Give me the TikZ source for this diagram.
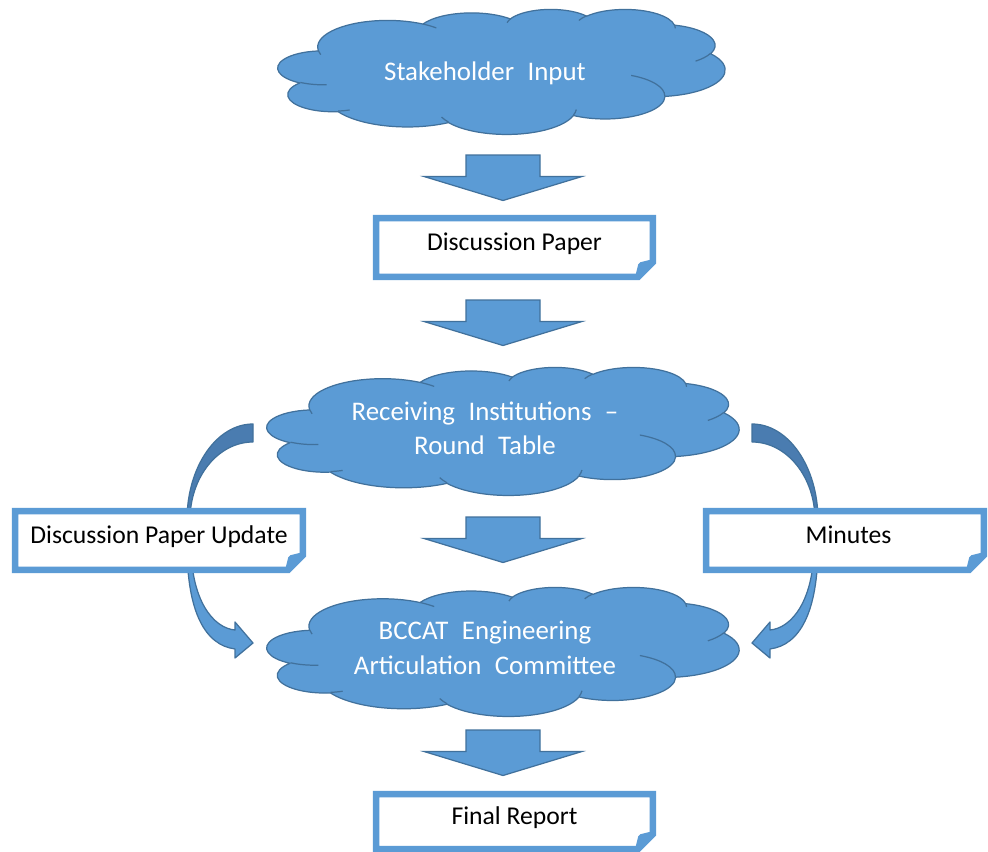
\documentclass[tikz,border=0pt]{standalone}
\usepackage{fontspec}
\setmainfont{Carlito}
\usetikzlibrary{calc}
\definecolor{cfill}{HTML}{5B9BD5}
\definecolor{cline}{HTML}{41719C}
\definecolor{cdark}{HTML}{4A7CB0}
\definecolor{cflap}{HTML}{CDCDCD}

% Office-style elliptical arc: visual start angle / sweep -> TikZ parametric arc
\newcommand\ooprep[5]{%
  \pgfmathsetmacro\ooTa{atan2((#2)*sin(#4),(#3)*cos(#4))}%
  \pgfmathsetmacro\ooTb{atan2((#2)*sin((#4)+(#5)),(#3)*cos((#4)+(#5)))}%
  \pgfmathsetmacro\ooTd{mod((\ooTb)-(\ooTa)+720,360)}%
  \expandafter\xdef\csname oo#1\endcsname{arc[x radius=#2, y radius=#3, start angle=\ooTa, delta angle=\ooTd]}%
}
\ooprep{A}{6.753}{9.19}{-190.4875}{123.7805}
\ooprep{B}{5.333}{7.267}{-144.1024}{89.9452}
\ooprep{C}{4.365}{5.945}{-145.8079}{99.7230}
\ooprep{D}{4.857}{6.595}{-130.9861}{117.2417}
\ooprep{E}{5.333}{7.273}{-78.7089}{109.0269}
\ooprep{F}{6.775}{9.22}{-46.2673}{130.2690}
\ooprep{G}{5.785}{7.867}{0.6250}{114.0333}
\ooprep{H}{6.752}{9.215}{22.4516}{115.1726}
\ooprep{I}{7.72}{10.543}{66.2426}{75.7110}
\ooprep{J}{4.36}{5.918}{-274.9421}{146.7356}
\ooprep{K}{4.345}{5.945}{-246.8285}{152.5189}
\ooprep{La}{4.345}{5.945}{86.742}{26.4295}
\ooprep{Lb}{4.36}{5.918}{73.6105}{11.4475}
\ooprep{Lc}{6.752}{9.215}{137.6242}{14.0811}
\ooprep{Ld}{6.752}{9.215}{6.4533}{15.9984}
\ooprep{Le}{5.785}{7.867}{-70.2924}{70.9174}
\ooprep{Lf}{5.333}{7.273}{30.3180}{27.7515}
\ooprep{Lg}{4.857}{6.595}{-13.7443}{14.8596}
\ooprep{Lh}{4.857}{6.595}{-149.1815}{18.1959}
\ooprep{Li}{4.365}{5.945}{-163.4943}{17.6980}
\ooprep{Lj}{6.753}{9.19}{-66.7070}{12.3194}
\ooprep{Lk}{6.753}{9.19}{157.6544}{11.8582}

\newcommand\cloudfont{\fontsize{15.3pt}{19.6pt}\selectfont\spaceskip=0.5em\relax}
\newcommand\docfont{\fontsize{14.6pt}{17.5pt}\selectfont}

\tikzset{
  cloudbody/.style={fill=cfill, draw=cline, line width=0.7pt, line join=round},
  cloudinner/.style={draw=cline, line width=0.7pt},
  cloudtext/.style={text=white, inner sep=0pt, align=center, font=\cloudfont},
  docbox/.style={rectangle, fill=white, inner sep=0pt, outer sep=0pt, text=black,
    font=\docfont, text height=10pt, text depth=6.3pt},
  docline/.style={draw=cfill, line width=3.7pt},
  docflap/.style={fill=cflap, draw=cfill, line width=3.2pt, line join=round},
  blockarrowbody/.style={fill=cfill, draw=cline, line width=0.7pt},
  curvefront/.style={fill=cfill, draw=cline, line width=0.7pt, line join=round},
  curveback/.style={fill=cdark, draw=cline, line width=0.7pt, line join=round},
  pics/blockarrow/.style={code={
    \filldraw[blockarrowbody] (-37,0) -- (37,0) -- (37,21.5) -- (79,21.5)
      -- (0,45.5) -- (-79,21.5) -- (-37,21.5) -- cycle;}},
}

% cloud drawn in a 43.2 x 43.2 frame: left, top, width, height (px)
\newcommand\ooCloud[4]{%
  \begin{scope}[shift={(#1,#2)}, xscale=#3/43.2, yscale=#4/43.2]
    \filldraw[cloudbody] (3.9,14.37) \ooA \ooB \ooC \ooD \ooE \ooF \ooG \ooH \ooI \ooJ \ooK -- cycle;
    \draw[cloudinner] (4.693,26.177) \ooLa (6.928,34.899) \ooLb (16.478,39.09) \ooLc
      (28.827,34.751) \ooLd (34.129,22.954) \ooLe (41.798,15.354) \ooLf
      (38.324,5.426) \ooLg (29.078,3.952) \ooLh (22.141,4.72) \ooLi
      (14.0,5.192) \ooLj (4.127,15.789) \ooLk;
  \end{scope}}

\newcommand\docoutline[1]{%
  \draw[docline] (#1.north west) -- (#1.north east) -- ($(#1.south east)+(0,-15)$)
    -- ($(#1.south east)+(-15,0)$) -- (#1.south west) -- cycle;
  \filldraw[docflap] ($(#1.south east)+(-15,0)$) -- ($(#1.south east)+(-12,-12)$)
    -- ($(#1.south east)+(0,-15)$) -- cycle;}

\newcommand\curvedarrowshape{%
  \filldraw[curveback] (752,424) arc[x radius=66, y radius=96, start angle=-90, end angle=0]
    -- (818,540) -- (815,540) -- (815,520)
    arc[x radius=63, y radius=78, start angle=0, end angle=-90] -- cycle;
  \filldraw[curvefront] (818,530) -- (818,545) .. controls (818,612) and (800,645) .. (770,649)
    -- (770,658) -- (752,643) -- (770,622) -- (770,630)
    .. controls (792,628) and (814,600) .. (814,545) -- (814,530) -- cycle;}

\begin{document}
\begin{tikzpicture}[x=0.02cm, y=-0.02cm]
\fill[white] (0,0) rectangle (988,852);
\useasboundingbox (0,0) rectangle (988,852);

% curved arrows (behind the side boxes)
\curvedarrowshape
\begin{scope}[shift={(1005,0)}, xscale=-1]
  \curvedarrowshape
\end{scope}

% document boxes
\node[docbox, minimum width=5.54cm, minimum height=1.18cm] (b1) at (514.5,247.5) {Discussion Paper\hspace{9pt}};
\docoutline{b1}
\node[docbox, minimum width=5.76cm, minimum height=1.18cm] (b2) at (159,540.5) {Discussion Paper Update\hspace{3pt}};
\docoutline{b2}
\node[docbox, minimum width=5.56cm, minimum height=1.18cm] (b3) at (845,540.5) {\hspace{4pt}Minutes};
\docoutline{b3}
\node[docbox, minimum width=5.54cm, minimum height=1.1cm] (b4) at (514.5,821.5) {Final Report\hspace{8pt}};
\docoutline{b4}

% clouds
\ooCloud{278}{9}{447}{125}
\node[cloudtext, anchor=base] (c1) at (485,80) {Stakeholder Input};
\ooCloud{267}{367}{472}{128}
\node[cloudtext] (c2) at (485,430.6) {\strut Receiving Institutions –\\\strut Round Table};
\ooCloud{267}{587}{472}{129}
\node[cloudtext] (c3) at (485,650.1) {\strut BCCAT Engineering\\\strut Articulation Committee};

% block arrows
\pic (a1) at (503,155) {blockarrow};
\pic (a2) at (503,300) {blockarrow};
\pic (a3) at (503,517) {blockarrow};
\pic (a4) at (503,730) {blockarrow};
\end{tikzpicture}
\end{document}
